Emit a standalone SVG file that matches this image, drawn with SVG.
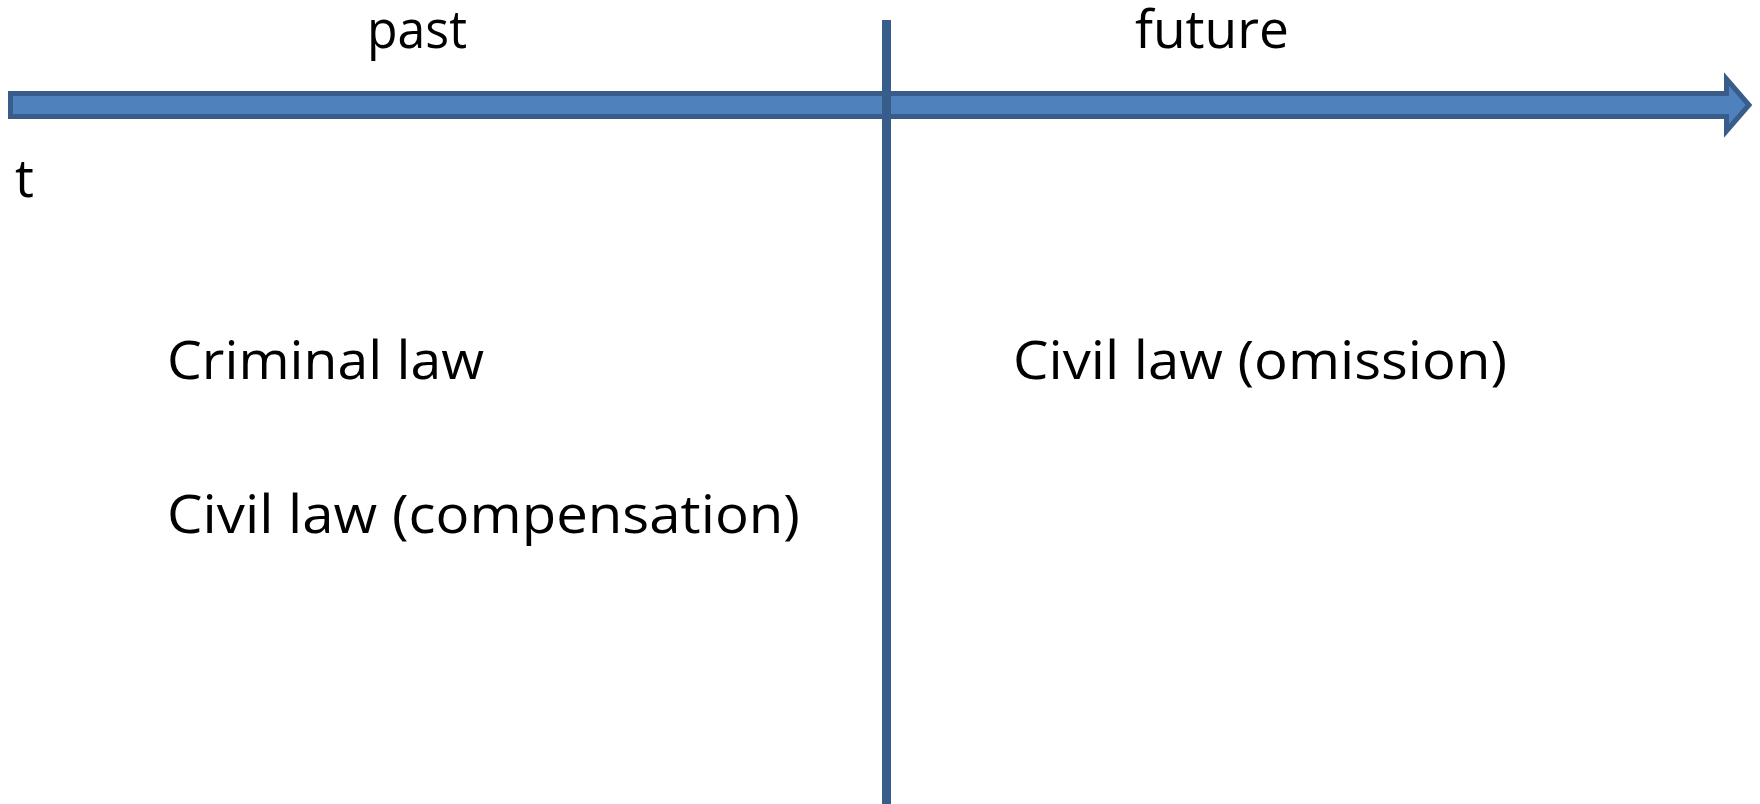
<svg xmlns="http://www.w3.org/2000/svg" width="1760" height="804" viewBox="0 0 1760 804">
  <style>
    .lbl { font-family: "Open Sans", "Liberation Sans", sans-serif; font-size: 53px; fill: #000000; }
    .axis { fill: #4F81BD; stroke: #385D8A; stroke-width: 5; stroke-linejoin: miter; }
    .divider { stroke: #385D8A; stroke-width: 9; }
  </style>
  <rect width="1760" height="804" fill="#FFFFFF"/>
  <g id="connectors">
    <!-- time axis block arrow -->
    <path class="axis" d="M10.5,93.5 H1726.5 V79 L1749,105 L1726.5,131 V116.5 H10.5 Z"/>
    <!-- present-moment divider -->
    <line class="divider" x1="886.5" y1="20" x2="886.5" y2="804"/>
  </g>
  <g id="label-past"><text class="lbl" x="367" y="48" textLength="100" lengthAdjust="spacingAndGlyphs">past</text></g>
  <g id="label-future"><text class="lbl" x="1135" y="48" textLength="154" lengthAdjust="spacingAndGlyphs">future</text></g>
  <g id="label-t"><text class="lbl" x="15" y="197">t</text></g>
  <g id="node-criminal"><text class="lbl" x="167" y="379" textLength="317" lengthAdjust="spacingAndGlyphs">Criminal law</text></g>
  <g id="node-compensation"><text class="lbl" x="167" y="533" textLength="633" lengthAdjust="spacingAndGlyphs">Civil law (compensation)</text></g>
  <g id="node-omission"><text class="lbl" x="1013" y="379" textLength="494" lengthAdjust="spacingAndGlyphs">Civil law (omission)</text></g>
</svg>
